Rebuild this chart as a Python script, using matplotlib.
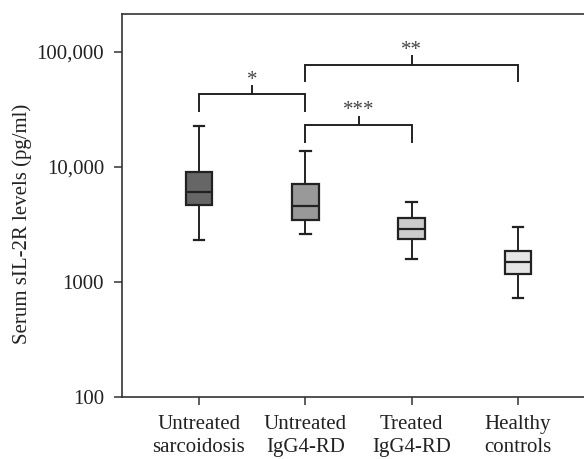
import matplotlib
matplotlib.use("Agg")
from matplotlib import pyplot as plt
from matplotlib.ticker import FixedLocator, NullLocator

plt.rcParams['font.family'] = ['Liberation Serif', 'DejaVu Serif']

# группы и значения (pg/ml)
groups = ["Untreated\nsarcoidosis", "Untreated\nIgG4-RD", "Treated\nIgG4-RD", "Healthy\ncontrols"]
whisker_low = [2320, 2610, 1600, 720]
q1 = [4680, 3480, 2380, 1165]
median = [6060, 4610, 2870, 1500]
q3 = [9050, 7060, 3620, 1870]
whisker_high = [22700, 13900, 4960, 3000]
box_colors = ["#666666", "#999999", "#cccccc", "#e5e5e5"]

# скобки значимости: (группа слева, группа справа, высота, низ ножек, верх хвостика, метка)
brackets = [
    (0, 1, 42800, 30700, 50600, "*"),
    (1, 2, 23200, 16600, 27400, "***"),
    (1, 3, 77100, 55900, 92200, "**"),
]

ytick_values = [100, 1000, 10000, 100000]
ytick_labels = ["100", "1000", "10,000", "100,000"]

line_col = "#222222"

fig = plt.figure(figsize=(5.84, 4.59), dpi=100)
ax = fig.add_axes([0.2089, 0.1351, 0.7911, 0.8344])

stats = []
for i in range(len(groups)):
    stats.append({
        'whislo': whisker_low[i], 'q1': q1[i], 'med': median[i],
        'q3': q3[i], 'whishi': whisker_high[i], 'fliers': [],
    })

positions = [1, 2, 3, 4]
bp = ax.bxp(stats, positions=positions, widths=0.25, patch_artist=True,
            showfliers=False, capwidths=0.1,
            boxprops=dict(linewidth=1.6, edgecolor=line_col),
            medianprops=dict(linewidth=1.6, color=line_col),
            whiskerprops=dict(linewidth=1.4, color=line_col),
            capprops=dict(linewidth=1.6, color=line_col))
for patch, c in zip(bp['boxes'], box_colors):
    patch.set_facecolor(c)

for left, right, top, leg, tip, label in brackets:
    x1 = positions[left]
    x2 = positions[right]
    xm = (x1 + x2) / 2
    ax.plot([x1, x1, x2, x2], [leg, top, top, leg], color=line_col, lw=1.4,
            solid_joinstyle='miter')
    ax.plot([xm, xm], [top, tip], color=line_col, lw=1.4)
    ax.text(xm, tip * 0.93, label, ha='center', va='bottom', fontsize=15,
            color="#444444")

ax.set_yscale('log')
ax.set_ylim(100, 213800)
ax.set_xlim(0.276, 4.62)
ax.yaxis.set_major_locator(FixedLocator(ytick_values))
ax.yaxis.set_minor_locator(NullLocator())
ax.set_yticklabels(ytick_labels)
ax.set_xticks(positions)
ax.set_xticklabels(groups, linespacing=1.3)

for side in ['left', 'top', 'bottom']:
    ax.spines[side].set_linewidth(1.2)
    ax.spines[side].set_color("#333333")
ax.spines['right'].set_visible(False)

ax.tick_params(axis='both', direction='out', length=6, width=1.1, color="#333333",
               labelsize=15, labelcolor="#222222")
ax.tick_params(axis='x', pad=7)
ax.tick_params(axis='y', pad=7)

ax.set_ylabel("Serum sIL-2R levels (pg/ml)", fontsize=15, color="#222222")
ax.yaxis.set_label_coords(-0.195, 0.452)

fig.savefig("out.png", dpi=100)
